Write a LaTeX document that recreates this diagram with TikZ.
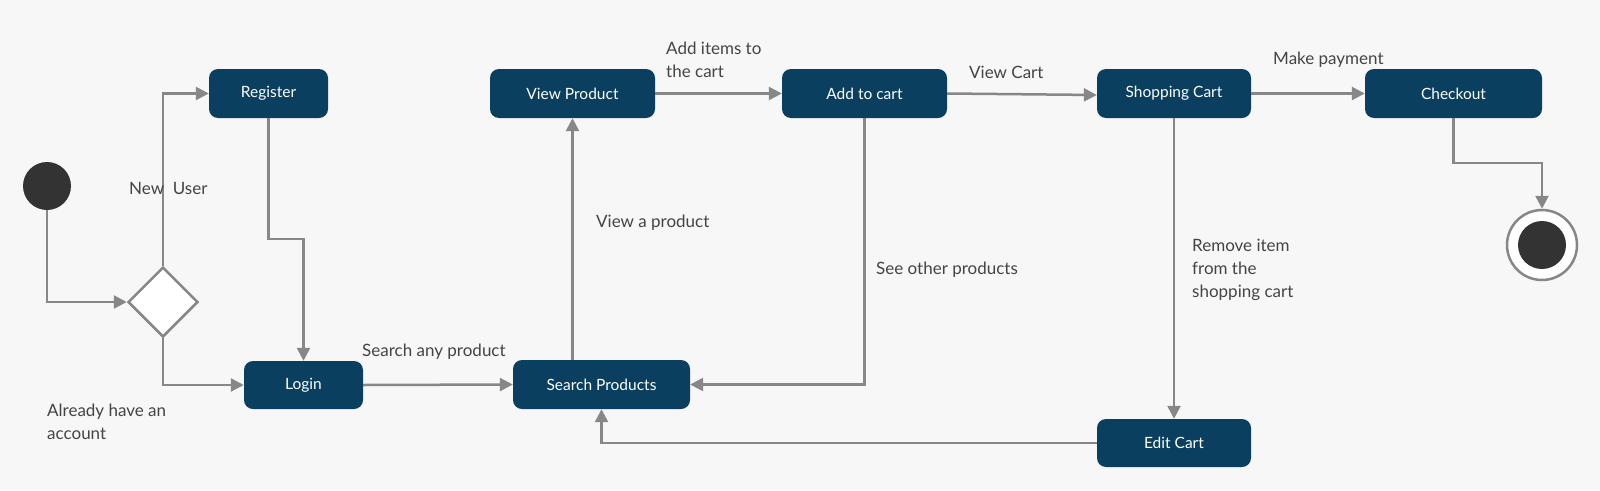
\documentclass[tikz,border=0pt]{standalone}
\usepackage{fontspec}
\setmainfont{Lato}
\usetikzlibrary{arrows.meta,shapes.geometric}
\definecolor{stateblue}{RGB}{10,63,96}
\definecolor{flowgray}{RGB}{135,135,135}
\definecolor{labelgray}{RGB}{68,68,68}
\definecolor{paper}{RGB}{247,247,247}
\definecolor{dotdark}{RGB}{51,51,51}

\begin{document}
\begin{tikzpicture}[x=1pt,y=-1pt,
    state/.style={rectangle, rounded corners=9pt, fill=stateblue, text=white, minimum height=49pt, inner sep=0pt, font=\fontsize{15.5}{18}\selectfont},
    flow/.style={draw=flowgray, line width=2.5pt, -{Triangle[length=13pt,width=13pt]}},
    lbl/.style={anchor=west, inner sep=0pt, text=labelgray, align=left, font=\fontsize{17}{23}\selectfont}]
    \fill[paper] (0,0) rectangle (1600,490);
    \useasboundingbox (0,0) rectangle (1600,490);

    \node[circle, fill=dotdark, minimum size=48pt, inner sep=0pt] (start) at (47,186) {};
    \node[diamond, draw=flowgray, fill=white, line width=2.5pt, minimum width=70pt, minimum height=70pt, inner sep=0pt] (choice) at (163,302) {};
    \node[circle, draw=flowgray, fill=white, line width=2.5pt, minimum size=70pt, inner sep=0pt] (final) at (1542,245) {};
    \node[circle, fill=dotdark, minimum size=48pt, inner sep=0pt] (finaldot) at (1542,245) {};

    \node[state, minimum width=119pt] (register) at (268.5,93.5) {Register};
    \node[state, minimum width=119pt, minimum height=48pt] (login) at (303.5,385) {Login};
    \node[state, minimum width=177pt] (search) at (601.5,384.5) {Search Products};
    \node[state, minimum width=165pt] (view) at (572.5,93.5) {View Product};
    \node[state, minimum width=165pt] (addcart) at (864.5,93.5) {Add to cart};
    \node[state, minimum width=154pt] (cart) at (1174,93.5) {Shopping Cart};
    \node[state, minimum width=177pt] (checkout) at (1453.5,93.5) {Checkout};
    \node[state, minimum width=154pt, minimum height=48pt] (editcart) at (1174,443) {Edit Cart};

    \coordinate (regbend) at (268.5,239);
    \coordinate (payend) at (1453.5,163);

    \draw[flow] (start.south) |- (choice.west);
    \draw[flow] (choice.north) |- (register.west);
    \draw[flow] (choice.south) |- (login.west);
    \draw[flow] (register.south) -- (regbend) -| (login.north);
    \draw[flow] (login.east) -- (search.west);
    \draw[flow] (view.south |- search.north) -- (view.south);
    \draw[flow] (view.east) -- (addcart.west);
    \draw[flow] (addcart.south) |- (search.east);
    \draw[flow] (addcart.east) -- ([yshift=-1.5pt]cart.west);
    \draw[flow] (cart.east) -- (checkout.west);
    \draw[flow] (cart.south) -- (editcart.north);
    \draw[flow] (editcart.west) -| (search.south);
    \draw[flow] (checkout.south) -- (payend) -| (final.north);

    \node[lbl] (newuser) at (129,188) {New~~User};
    \node[lbl] (account) at (47,421.5) {Already have an\\account};
    \node[lbl] (searchany) at (362,352) {Search any product};
    \node[lbl] (viewone) at (596,223) {View a product};
    \node[lbl] (additems) at (666,60) {Add items to\\the cart};
    \node[lbl] (viewcart) at (969,72) {View Cart};
    \node[lbl] (others) at (876,270) {See other products};
    \node[lbl] (payment) at (1273,60) {Make payment};
    \node[lbl] (remove) at (1192,270) {Remove item\\from the\\shopping cart};
\end{tikzpicture}
\end{document}
